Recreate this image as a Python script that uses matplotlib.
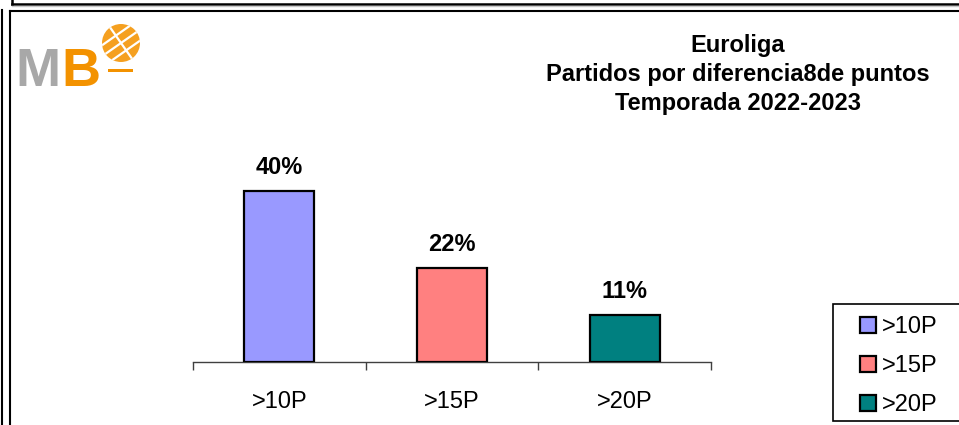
import matplotlib
matplotlib.use("Agg")
from matplotlib import pyplot as plt
from matplotlib.lines import Line2D
from matplotlib.patches import Circle, Rectangle, Patch
from matplotlib.transforms import IdentityTransform
import numpy as np

categories = [">10P", ">15P", ">20P"]
values = [40, 22, 11]
colors = ["#9999FF", "#FF8080", "#008080"]
title_lines = ["Euroliga", "Partidos por diferencia8de puntos", "Temporada 2022-2023"]

W, H = 959, 425
plt.rcParams["font.family"] = ["Liberation Sans", "DejaVu Sans"]

fig = plt.figure(figsize=(W / 100, H / 100), dpi=100)
fig.patch.set_facecolor("white")
px = IdentityTransform()


def Y(y):
    # pixel row measured from the top -> display coords
    return H - y


def fline(xs, ys, color="black", lw=1.5):
    fig.add_artist(Line2D(xs, [Y(v) for v in ys], transform=px, color=color, lw=lw))


# frames
fline([12, W], [3.5, 3.5], lw=1.8)
fline([12, 12], [0, 3.5], lw=1.8)
fline([12, W], [5.5, 5.5], color="#c8c8c8", lw=1)
fline([1.5, 1.5], [10, H], lw=1.5)
fline([9.5, W], [11, 11], lw=1.5)
fline([9.5, 9.5], [11, H], lw=1.5)

# axes placed so 1% = 4.275 px
ymax = 45
left, right, bottom = 193, 711, 362
top = bottom - ymax * 4.275
ax = fig.add_axes([left / W, 1 - bottom / H, (right - left) / W, (bottom - top) / H])
x = np.arange(len(categories))
ax.bar(x, values, width=0.405, color=colors, edgecolor="black", linewidth=1.6, zorder=3)
for xi, v in zip(x, values):
    ax.annotate(f"{v}%", (xi, v), xytext=(0, 12), textcoords="offset points",
                ha="center", va="baseline", fontsize=17, fontweight="bold")
ax.set_xlim(-0.5, len(categories) - 0.5)
ax.set_ylim(0, ymax)
for s in ["top", "left", "right"]:
    ax.spines[s].set_visible(False)
ax.spines["bottom"].set_color("#404040")
ax.spines["bottom"].set_linewidth(1)
ax.set_yticks([])
ax.set_xticks(np.arange(len(categories) + 1) - 0.5)
ax.set_xticklabels([])
ax.tick_params(axis="x", which="major", direction="out", length=6, width=1, color="#404040")
ax.set_xticks(x, minor=True)
ax.set_xticklabels(categories, minor=True, fontsize=17)
ax.tick_params(axis="x", which="minor", length=0, pad=21)

# title
for txt, base in zip(title_lines, [52, 81, 110]):
    fig.text(738 / W, 1 - base / H, txt, ha="center", va="baseline",
             fontsize=17, fontweight="bold")

# legend
fig.add_artist(Rectangle((833, Y(421)), 140, 117, transform=px, facecolor="white",
                         edgecolor="black", lw=1.2))
handles = [Patch(facecolor=c, edgecolor="black", linewidth=1.6) for c in colors]
fig.legend(handles, categories, loc="upper left", bbox_to_anchor=(860 / W, 1 - 316 / H),
           frameon=False, fontsize=17, handlelength=0.68, handleheight=0.68,
           handletextpad=0.25, labelspacing=0.72, borderpad=0, borderaxespad=0)

# logo
fig.text(15 / W, 1 - 86 / H, "M", color="#A8A8A8", fontsize=39, fontweight="bold",
         ha="left", va="baseline")
fig.text(61 / W, 1 - 86 / H, "B", color="#F39200", fontsize=39, fontweight="bold",
         ha="left", va="baseline")
cx, cy, r = 121, 43, 19
ball = Circle((cx, Y(cy)), r, transform=px, facecolor="#F5A020", edgecolor="none")
fig.add_artist(ball)
for off in [-9, 0, 9]:
    t = np.linspace(-r * 1.2, r * 1.2, 30)
    lx = cx + t * np.cos(np.radians(-35)) - off * np.sin(np.radians(-35))
    ly = cy + t * np.sin(np.radians(-35)) + off * np.cos(np.radians(-35))
    ln = Line2D(lx, [Y(v) for v in ly], transform=px, color="white", lw=1.6)
    ln.set_clip_path(ball)
    fig.add_artist(ln)
t = np.linspace(-r * 1.2, r * 1.2, 30)
ln = Line2D(cx + t * np.cos(np.radians(55)), [Y(cy + v * np.sin(np.radians(55))) for v in t],
            transform=px, color="white", lw=1.6)
ln.set_clip_path(ball)
fig.add_artist(ln)
fig.add_artist(Rectangle((108, Y(71.5)), 25, 3, transform=px, facecolor="#F39200",
                         edgecolor="none"))

fig.savefig("out.png", dpi=100, facecolor="white")
